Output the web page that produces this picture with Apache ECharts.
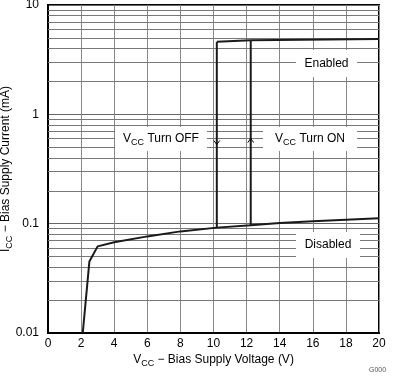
<!DOCTYPE html>
<html>
<head>
<meta charset="utf-8">
<script src="https://cdn.jsdelivr.net/npm/echarts@6.0.0/dist/echarts.min.js"></script>
<style>
html, body { margin: 0; padding: 0; background: #fff; }
#chart { width: 394px; height: 377px; }
</style>
</head>
<body>
<div id="chart"></div>
<script>
// values (V, mA)
var disabledV = [2.1, 2.5, 3.0, 4, 6, 8, 10.2, 12.25, 14, 16, 18, 20];
var disabledI = [0.01, 0.045, 0.062, 0.0675, 0.0765, 0.085, 0.092, 0.0965, 0.1015, 0.105, 0.1087, 0.112];
var enabledV = [10.2, 12.25, 20];
var enabledI = [4.6, 4.75, 4.88];
var turnOffV = [10.2, 10.2];
var turnOffI = [0.092, 4.6];
var turnOnV = [12.25, 12.25];
var turnOnI = [0.0965, 4.75];
var yTickLabels = ['0.01', '0.1', '1', '10'];
var minorGrid = [0.02, 0.03, 0.04, 0.05, 0.06, 0.07, 0.08, 0.09,
                 0.2, 0.3, 0.4, 0.5, 0.6, 0.7, 0.8, 0.9,
                 2, 3, 4, 5, 6, 7, 8, 9];

function pairs(xs, ys) {
    var out = [];
    for (var i = 0; i < xs.length; i++) out.push([xs[i], ys[i]]);
    return out;
}

var FONT = '"Liberation Sans", Arial, sans-serif';
var rich = {
    n: {fontSize: 12, fontFamily: FONT, color: '#000', lineHeight: 16},
    s: {fontSize: 9, fontFamily: FONT, color: '#000', lineHeight: 8, verticalAlign: 'bottom'}
};
var curveStyle = {color: '#1a1a1a', width: 2};

var chart = echarts.init(document.getElementById('chart'));
var option = {
    animation: false,
    grid: {
        left: 48, right: 15, top: 5, bottom: 44,
        outerBoundsMode: 'none', containLabel: false,
        show: true, borderColor: '#000', borderWidth: 2, backgroundColor: 'transparent'
    },
    xAxis: {
        type: 'value',
        min: 0, max: 20, interval: 2,
        name: '{n|V}{s|CC}{n| − Bias Supply Voltage (V)}',
        nameLocation: 'middle',
        nameGap: 19,
        nameMoveOverlap: false,
        nameTextStyle: {rich: rich},
        axisLine: {show: true, lineStyle: {color: '#000', width: 2}},
        axisTick: {show: false},
        axisLabel: {margin: 5, fontSize: 12, fontFamily: FONT, color: '#000', showMinLabel: true, showMaxLabel: true},
        splitLine: {show: true, lineStyle: {color: '#888', width: 1}}
    },
    yAxis: {
        type: 'log',
        logBase: 10,
        min: 0.01, max: 10,
        name: '{n|I}{s|CC}{n| − Bias Supply Current (mA)}',
        nameLocation: 'middle',
        nameGap: 34,
        nameMoveOverlap: false,
        nameTextStyle: {rich: rich},
        axisLine: {show: true, lineStyle: {color: '#000', width: 2}},
        axisTick: {show: false},
        axisLabel: {
            margin: 9, fontSize: 12, fontFamily: FONT, color: '#000',
            showMinLabel: true, showMaxLabel: true,
            formatter: function (v) {
                return yTickLabels[Math.round(Math.log10(v)) + 2];
            }
        },
        splitLine: {show: true, lineStyle: {color: '#666', width: 1}}
    },
    series: [
        {
            // minor log grid lines
            type: 'line', data: [], silent: true,
            markLine: {
                silent: true, symbol: 'none', label: {show: false},
                lineStyle: {color: '#777', width: 1, type: 'solid'},
                data: minorGrid.map(function (v) { return {yAxis: v}; })
            }
        },
        {type: 'line', data: pairs(disabledV, disabledI), showSymbol: false, lineStyle: curveStyle, z: 5},
        {type: 'line', data: pairs(turnOffV, turnOffI), showSymbol: false, lineStyle: curveStyle, z: 5},
        {type: 'line', data: pairs(turnOnV, turnOnI), showSymbol: false, lineStyle: curveStyle, z: 5},
        {type: 'line', data: pairs(enabledV, enabledI), showSymbol: false, lineStyle: curveStyle, z: 5}
    ]
};
chart.setOption(option);

// annotations: white label boxes over the grid
function labelBox(x, y, w, h, text) {
    return [
        {type: 'rect', z: 100, shape: {x: x, y: y, width: w, height: h}, style: {fill: '#fff'}},
        {type: 'text', z: 101, x: x + w / 2, y: y + h / 2,
         style: {text: text, rich: rich, align: 'center', verticalAlign: 'middle'}}
    ];
}
function arrow(v, i, dir) {
    var p = chart.convertToPixel({gridIndex: 0}, [v, i]);
    var d = dir * 4;
    return {
        type: 'polyline', z: 102,
        shape: {points: [[p[0] - 3, p[1] - d], [p[0], p[1]], [p[0] + 3, p[1] - d]]},
        style: {stroke: '#000', fill: null, lineWidth: 1}
    };
}
var graphics = [].concat(
    labelBox(115, 127, 92, 24, '{n|V}{s|CC}{n| Turn OFF}'),
    labelBox(263, 127, 94, 24, '{n|V}{s|CC}{n| Turn ON}'),
    labelBox(296, 50, 61, 27, '{n|Enabled}'),
    labelBox(296, 232, 64, 26, '{n|Disabled}'),
    [
        arrow(turnOffV[0], 0.53, 1),
        arrow(turnOnV[0], 0.6, -1),
        {type: 'text', z: 100, x: 369, y: 367, style: {text: 'G000', fontSize: 7, fontFamily: FONT, fill: '#555'}}
    ]
);
chart.setOption({graphic: graphics});
</script>
</body>
</html>
